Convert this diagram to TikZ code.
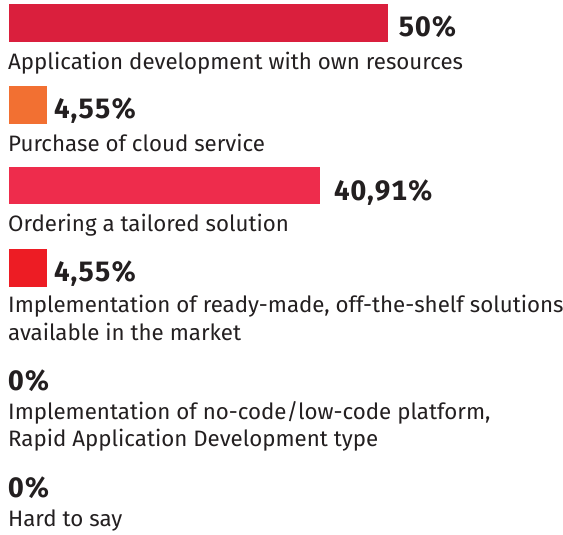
\documentclass[tikz,border=0pt]{standalone}
\usepackage{fontspec}
\setmainfont{Fira Sans}
\newfontfamily\pctfont[Numbers=Monospaced,LetterSpace=3]{Fira Sans}
\definecolor{txt}{HTML}{231F20}
\definecolor{barA}{RGB}{218,31,61}
\definecolor{barB}{RGB}{242,112,50}
\definecolor{barC}{RGB}{238,44,76}
\definecolor{barD}{RGB}{237,28,36}
\begin{document}
\begin{tikzpicture}[x=1pt,y=-1pt,
  bar/.style={rectangle, inner sep=0pt, outer sep=0pt, anchor=north west, minimum height=37.6pt},
  pct/.style={anchor=base west, inner sep=0pt, font=\pctfont\fontsize{28}{30}\selectfont\bfseries, text=txt},
  lbl/.style={anchor=base west, inner sep=0pt, font=\fontsize{22.3}{27.4}\selectfont, text=txt, align=left}]
\useasboundingbox (0,0) rectangle (563,535);
\node[bar, fill=barA, minimum width=379pt] (b1) at (9,4) {};
\node[pct] (p1) at (398.5,36.7) {50\%};
\node[lbl] (l1) at (8,70) {Application development with own resources};
\node[bar, fill=barB, minimum width=37.7pt] (b2) at (9,86) {};
\node[pct] (p2) at (54,119) {4,55\%};
\node[lbl] (l2) at (8,151.7) {Purchase of cloud service};
\node[bar, fill=barC, minimum width=311pt] (b3) at (9,166.7) {};
\node[pct] (p3) at (334,200) {40,91\%};
\node[lbl] (l3) at (8,231.7) {Ordering a tailored solution};
\node[bar, fill=barD, minimum width=37.7pt] (b4) at (9,249) {};
\node[pct] (p4) at (54,281) {4,55\%};
\node[lbl] (l4) at (8,340) {Implementation of ready-made, off-the-shelf solutions\\available in the market};
\node[pct] (p5) at (8,390) {0\%};
\node[lbl] (l5) at (8,446.7) {Implementation of no-code/low-code platform,\\Rapid Application Development type};
\node[pct] (p6) at (8,497.7) {0\%};
\node[lbl] (l6) at (8,526.7) {Hard to say};
\end{tikzpicture}
\end{document}
